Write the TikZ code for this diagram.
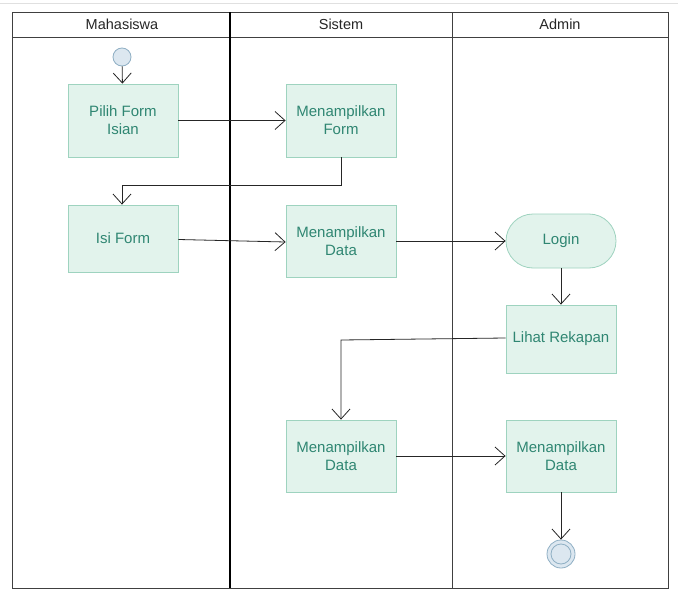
\documentclass[tikz,border=0pt]{standalone}
\usepackage{fontspec}
\setmainfont{Liberation Sans}
\usetikzlibrary{arrows.meta,positioning}
\definecolor{boxfill}{HTML}{E2F3EC}
\definecolor{boxdraw}{HTML}{9ED3BF}
\definecolor{boxtext}{HTML}{2F8672}
\definecolor{startfill}{HTML}{DCE7F0}
\definecolor{startdraw}{HTML}{8FAFC4}
\begin{document}
\begin{tikzpicture}[x=1pt,y=-1pt,
  act/.style={draw=boxdraw,fill=boxfill,line width=0.8pt,minimum width=110pt,minimum height=73pt,
    align=center,text=boxtext,font=\fontsize{15}{18}\selectfont,inner sep=1pt},
  flow/.style={draw=black!85,line width=0.8pt,-{Straight Barb[length=10pt,width=18pt,line width=0.8pt]}},
  lane/.style={draw=black!75,line width=0.8pt},
  hdr/.style={font=\fontsize{14.5}{16}\selectfont,text=black!85}]
\useasboundingbox (0,0) rectangle (678,589);
\fill[white] (0,0) rectangle (678,589);
\draw[black!12,line width=1pt] (0,3) -- (678,3);
% swimlanes
\draw[lane] (12,12) rectangle (668,588);
\draw[lane] (12,37) -- (668,37);
\draw[black,line width=2pt] (230,12) -- (230,588);
\draw[lane] (452,12) -- (452,588);
\node[hdr] (h1) at (122,24) {Mahasiswa};
\node[hdr] (h2) at (341,24) {Sistem};
\node[hdr] (h3) at (560,24) {Admin};
% nodes
\node[circle,draw=startdraw,fill=startfill,line width=0.8pt,minimum size=18pt,inner sep=0pt] (start) at (122,57) {};
\node[act] (pilih) at (123,120.5) {Pilih Form\\Isian};
\node[act] (tform) at (341,120.5) {Menampilkan\\Form};
\node[act,minimum height=67pt] (isi) at (123,238.5) {Isi Form};
\node[act,minimum height=72pt] (tdata1) at (341,241) {Menampilkan\\Data};
\node[act,rounded corners=27pt,minimum height=54pt] (login) at (561,241) {Login};
\node[act,minimum height=68pt] (lihat) at (561,339) {Lihat Rekapan};
\node[act,minimum height=72pt] (tdata2) at (341,456) {Menampilkan\\Data};
\node[act,minimum height=72pt] (tdata3) at (561,456) {Menampilkan\\Data};
\node[circle,draw=startdraw,fill=startfill,line width=0.8pt,minimum size=28pt,inner sep=0pt] (end) at (561,554) {};
\draw[startdraw,line width=0.8pt] (end.center) circle (10pt);
% connectors
\draw[flow] (start) -- (pilih);
\draw[flow] (pilih.east) -- (tform.west);
\draw[flow] (tform.south) -- (341,185) -- (122,185) -- (isi.north -| 122,0);
\draw[flow] ([yshift=-1pt]isi.east) -- ([yshift=-1pt]tdata1.west);
\draw[flow] (tdata1.east) -- (login.west);
\draw[flow] (login) -- (lihat);
\draw[flow] ([yshift=1pt]lihat.west) -- (341,340) -- (tdata2.north);
\draw[flow] (tdata2.east) -- (tdata3.west);
\draw[flow] (tdata3) -- (end);
\end{tikzpicture}
\end{document}
